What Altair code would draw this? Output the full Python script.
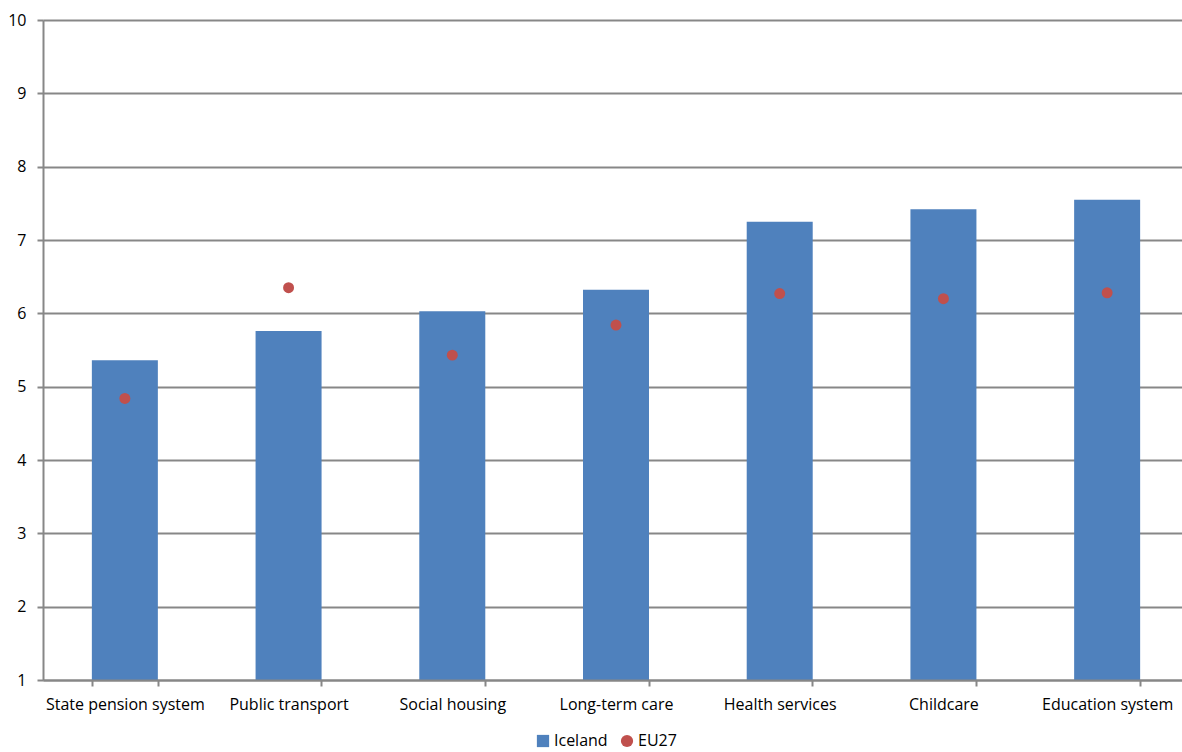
import altair as alt
import pandas as pd

categories = [
    "State pension system",
    "Public transport",
    "Social housing",
    "Long-term care",
    "Health services",
    "Childcare",
    "Education system",
]
iceland = [5.36, 5.76, 6.03, 6.32, 7.25, 7.42, 7.55]
eu27 = [4.84, 6.35, 5.43, 5.84, 6.27, 6.20, 6.28]

bars_df = pd.DataFrame({"category": categories, "value": iceland, "series": "Iceland"})
dots_df = pd.DataFrame({"category": categories, "value": eu27, "series": "EU27"})

FONT = "Open Sans"
GRID = "#878787"

# the category bands run slightly past the right edge of the view
x_scale = alt.Scale(paddingInner=0.6, paddingOuter=0.3, range=[0, 1146])

x_enc = alt.X(
    "category:N",
    sort=categories,
    scale=x_scale,
    axis=alt.Axis(
        title=None,
        labelAngle=0,
        tickBand="extent",
        tickSize=6,
        tickColor=GRID,
        tickWidth=2,
        domainColor=GRID,
        domainWidth=2,
        labelPadding=10,
        labelFontSize=16,
        labelColor="#000000",
        labelFont=FONT,
        labelOverlap=False,
        labelLimit=0,
        grid=False,
        zindex=1,
    ),
)
y_scale = alt.Scale(domain=[1, 10], nice=False, zero=False)
y_axis = alt.Axis(
    title=None,
    values=list(range(1, 11)),
    format="d",
    tickSize=6,
    tickColor=GRID,
    tickWidth=2,
    domainColor=GRID,
    domainWidth=2,
    gridColor=GRID,
    gridWidth=2,
    gridOpacity=1,
    labelPadding=11,
    labelFontSize=16,
    labelColor="#000000",
    labelFont=FONT,
)


def series_legend(x, shape):
    return alt.Legend(
        title=None,
        orient="none",
        direction="horizontal",
        legendX=x,
        legendY=713,
        symbolType=shape,
        symbolSize=150,
        symbolOpacity=1,
        symbolStrokeWidth=0,
        labelFontSize=16,
        labelFont=FONT,
        labelColor="#000000",
        labelOffset=3,
    )


bars = alt.Chart(bars_df).mark_bar(size=66).encode(
    x=x_enc,
    y=alt.Y("value:Q", scale=y_scale, axis=y_axis),
    y2=alt.datum(1),
    color=alt.Color(
        "series:N",
        scale=alt.Scale(domain=["Iceland"], range=["#4F81BD"]),
        legend=series_legend(492, "square"),
    ),
)

dots = alt.Chart(dots_df).mark_circle(size=120, opacity=1).encode(
    x=alt.X("category:N", sort=categories, scale=x_scale),
    y=alt.Y("value:Q", scale=y_scale),
    color=alt.Color(
        "series:N",
        scale=alt.Scale(domain=["EU27"], range=["#C0504D"]),
        legend=series_legend(576, "circle"),
    ),
)

chart = (
    alt.layer(bars, dots)
    .resolve_scale(color="independent")
    .properties(
        width=1139,
        height=660,
        autosize=alt.AutoSizeParams(type="none"),
        padding={"left": 43, "top": 20, "right": 0, "bottom": 72},
    )
    .configure_view(stroke=None)
    .configure(background="#FFFFFF")
)

chart.save("out.html", embed_options={"renderer": "svg", "actions": False})
